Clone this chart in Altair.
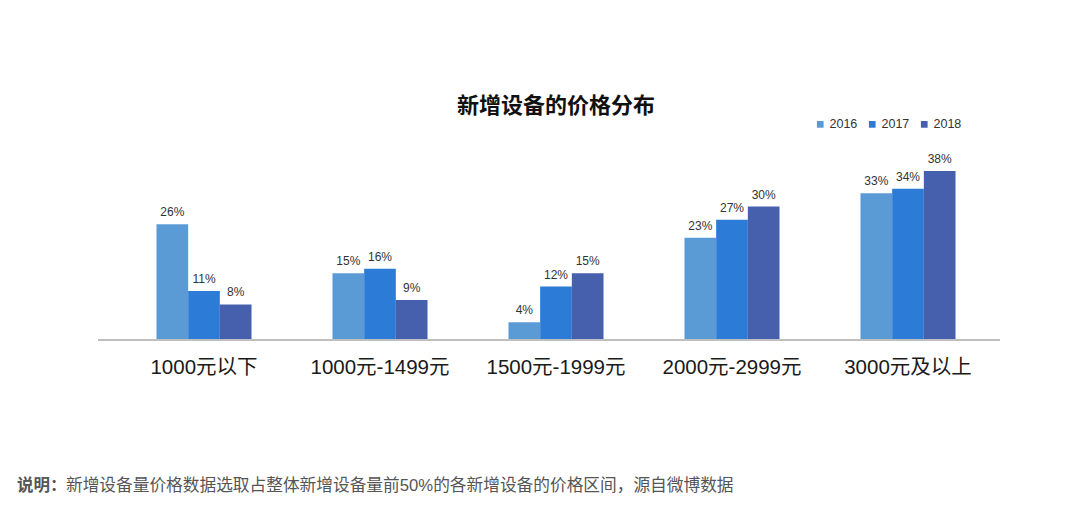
import altair as alt
import pandas as pd

categories = ["1000元以下", "1000元-1499元", "1500元-1999元", "2000元-2999元", "3000元及以上"]
years = ["2016", "2017", "2018"]
v2016 = [26, 15, 4, 23, 33]
v2017 = [11, 16, 12, 27, 34]
v2018 = [8, 9, 15, 30, 38]
colors = ["#5B9BD5", "#2B7BD7", "#4760AE"]

title_text = "新增设备的价格分布"
note_bold = "说明："
note_text = "新增设备量价格数据选取占整体新增设备量前50%的各新增设备的价格区间，源自微博数据"

rows = []
for i, c in enumerate(categories):
    for y, vals in zip(years, [v2016, v2017, v2018]):
        rows.append({"category": c, "year": y, "value": vals[i]})
df = pd.DataFrame(rows)

FONT = "Liberation Sans, Noto Sans CJK SC, sans-serif"
W, H = 880, 178

x = alt.X("category:N", sort=categories, title=None,
          scale=alt.Scale(paddingInner=0.46, paddingOuter=0.23),
          axis=alt.Axis(domain=False, ticks=False, labelAngle=0, labelFontSize=20.5,
                        labelColor="#1a1a1a", labelPadding=17, labelFont=FONT))
xo = alt.XOffset("year:N", sort=years,
                 scale=alt.Scale(paddingInner=0, paddingOuter=0))
y = alt.Y("value:Q", scale=alt.Scale(domain=[0, 40]), axis=None)

base = alt.Chart(df)

bars = base.mark_bar().encode(
    x=x, xOffset=xo, y=y,
    color=alt.Color("year:N", sort=years,
                    scale=alt.Scale(domain=years, range=colors),
                    legend=alt.Legend(title=None, orient="none", direction="horizontal",
                                      legendX=698, legendY=-44, symbolType="square",
                                      symbolSize=45, labelFontSize=12.5, labelFont=FONT,
                                      labelColor="#333333", columnPadding=8,
                                      labelOffset=3, symbolStrokeWidth=0)),
)

labels = base.transform_calculate(label="datum.value + '%'").mark_text(
    baseline="bottom", dy=-5, fontSize=12, font=FONT, color="#333333"
).encode(x=x, xOffset=xo, y=y, text="label:N")

baseline_rule = alt.Chart(pd.DataFrame({"v": [0]})).mark_rule(
    color="#bfbfbf", strokeWidth=2
).encode(y=alt.Y("v:Q", scale=alt.Scale(domain=[0, 40]), axis=None),
         x=alt.value(-18), x2=alt.value(884))

tdf = pd.DataFrame({"t": [title_text]})
title_mark = alt.Chart(tdf).mark_text(
    fontSize=22, fontWeight="bold", font=FONT, color="#111111", baseline="middle", align="center"
).encode(text="t:N", x=alt.value(W / 2), y=alt.value(-56))

n1 = alt.Chart(pd.DataFrame({"t": [note_bold]})).mark_text(
    fontSize=16.5, fontWeight="bold", font=FONT, color="#555555", baseline="middle", align="left"
).encode(text="t:N", x=alt.value(-99), y=alt.value(324))
n2 = alt.Chart(pd.DataFrame({"t": [note_text]})).mark_text(
    fontSize=16.7, font=FONT, color="#555555", baseline="middle", align="left"
).encode(text="t:N", x=alt.value(-50), y=alt.value(324))

chart = alt.layer(bars, labels, baseline_rule, title_mark, n1, n2).properties(
    width=W, height=H,
    background="white",
    autosize=alt.AutoSizeParams(type="none"),
    padding={"left": 108, "top": 154, "right": 76, "bottom": 170},
).configure_view(strokeWidth=0, stroke=None)

chart.save("out.html", embed_options={"renderer": "svg", "actions": False})
